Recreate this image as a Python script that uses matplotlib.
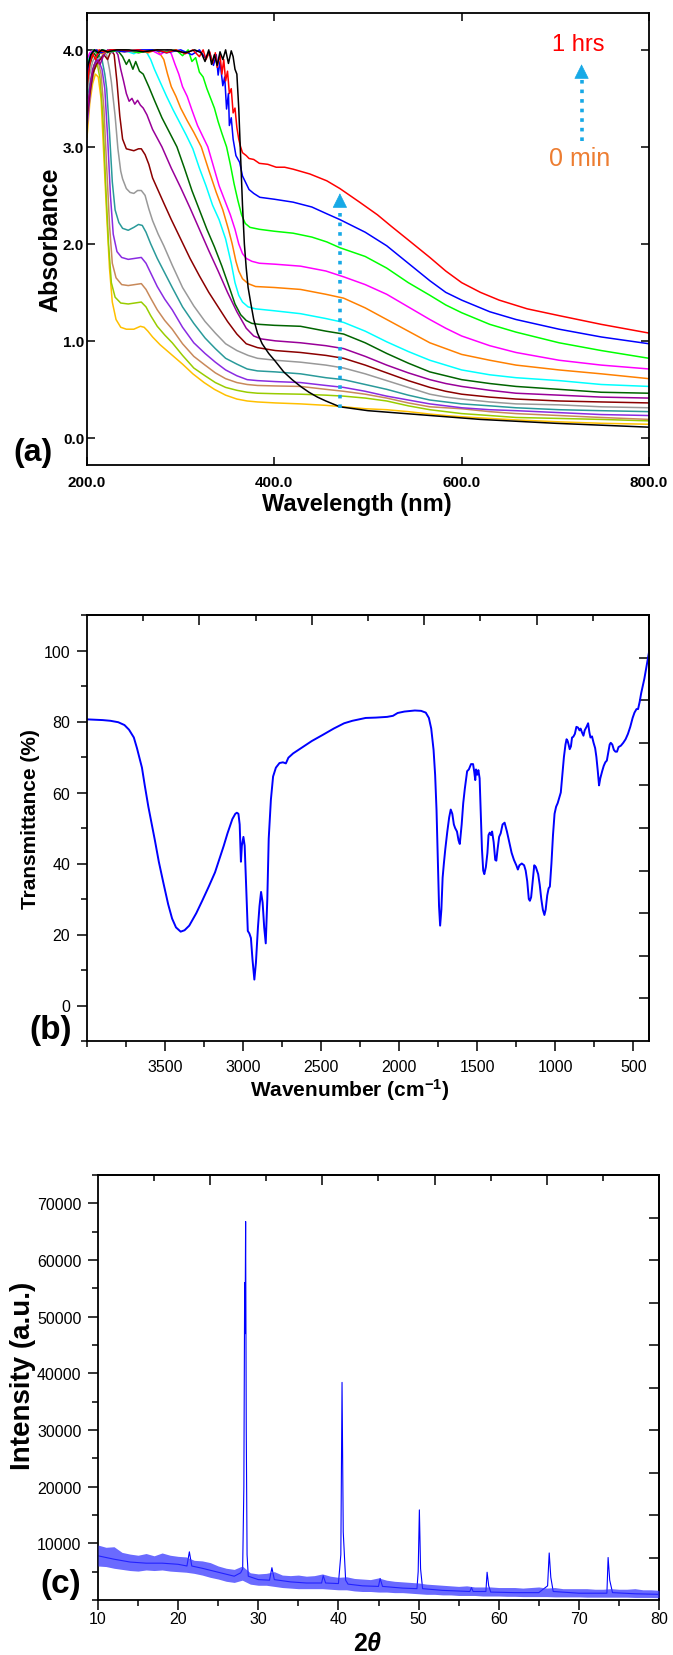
import numpy as np
import matplotlib
matplotlib.use('Agg')
import matplotlib.pyplot as plt
from matplotlib.ticker import MultipleLocator, FixedLocator, NullFormatter

plt.rcParams['font.family'] = ['Liberation Sans', 'DejaVu Sans']
plt.rcParams['mathtext.fontset'] = 'custom'
plt.rcParams['mathtext.rm'] = 'Liberation Sans'
plt.rcParams['mathtext.bf'] = 'Liberation Sans:bold'
plt.rcParams['mathtext.it'] = 'Liberation Sans:italic'
plt.rcParams['mathtext.bfit'] = 'Liberation Sans:italic:bold'

# ---------------- Panel (a) UV-Vis data ----------------
wl_gold = [200, 203, 206, 209, 212, 215, 218, 221, 224, 227, 231, 236, 242, 250, 257, 261, 265, 270, 278, 290, 302, 313, 325, 336, 348, 360, 371, 382, 401, 428, 455, 474, 497, 520, 543, 566, 589, 612, 658, 704, 749, 800]
ab_gold = [3.1, 3.45, 3.65, 3.75, 3.72, 3.5, 2.9, 2.3, 1.75, 1.4, 1.22, 1.14, 1.12, 1.12, 1.15, 1.14, 1.1, 1.04, 0.96, 0.86, 0.76, 0.66, 0.57, 0.5, 0.44, 0.4, 0.38, 0.37, 0.36, 0.35, 0.335, 0.32, 0.3, 0.29, 0.27, 0.245, 0.225, 0.21, 0.185, 0.165, 0.15, 0.14]

wl_ygreen = [200, 204, 208, 211, 214, 217, 220, 223, 226, 230, 236, 244, 251, 258, 263, 268, 275, 283, 291, 302, 314, 326, 337, 348, 360, 371, 382, 401, 428, 455, 474, 497, 520, 543, 566, 583, 600, 630, 658, 704, 749, 800]
ab_ygreen = [3.4, 3.6, 3.8, 3.85, 3.7, 3.3, 2.6, 2.0, 1.6, 1.45, 1.39, 1.38, 1.39, 1.4, 1.35, 1.26, 1.15, 1.06, 0.98, 0.85, 0.72, 0.64, 0.57, 0.52, 0.49, 0.47, 0.46, 0.455, 0.45, 0.44, 0.43, 0.41, 0.38, 0.33, 0.29, 0.27, 0.25, 0.23, 0.21, 0.2, 0.19, 0.175]

wl_tan = [200, 204, 208, 212, 215, 218, 221, 224, 227, 231, 237, 244, 251, 258, 263, 268, 275, 283, 291, 302, 314, 326, 337, 348, 360, 371, 382, 401, 428, 455, 474, 497, 520, 543, 566, 583, 600, 630, 658, 704, 749, 800]
ab_tan = [3.35, 3.65, 3.85, 3.88, 3.75, 3.4, 2.8, 2.2, 1.8, 1.65, 1.58, 1.57, 1.58, 1.59, 1.53, 1.44, 1.32, 1.21, 1.12, 0.97, 0.84, 0.75, 0.67, 0.61, 0.57, 0.55, 0.54, 0.535, 0.53, 0.5, 0.48, 0.45, 0.41, 0.36, 0.32, 0.31, 0.3, 0.27, 0.25, 0.23, 0.21, 0.19]

wl_violet = [200, 204, 208, 212, 216, 219, 222, 225, 228, 232, 237, 244, 251, 258, 263, 268, 275, 283, 291, 302, 314, 326, 337, 348, 360, 371, 382, 401, 428, 455, 474, 497, 520, 543, 566, 583, 600, 630, 658, 704, 749, 800]
ab_violet = [3.2, 3.6, 3.85, 3.9, 3.8, 3.6, 3.1, 2.5, 2.1, 1.92, 1.86, 1.84, 1.85, 1.86, 1.8, 1.7, 1.56, 1.43, 1.32, 1.14, 0.98, 0.87, 0.78, 0.7, 0.64, 0.6, 0.59, 0.58, 0.57, 0.54, 0.52, 0.48, 0.43, 0.39, 0.35, 0.33, 0.31, 0.29, 0.28, 0.26, 0.24, 0.23]

wl_teal = [200, 204, 208, 212, 216, 219, 221, 224, 227, 230, 234, 238, 244, 250, 255, 259, 263, 268, 275, 283, 291, 302, 314, 326, 337, 348, 360, 371, 382, 401, 428, 455, 474, 497, 520, 543, 566, 583, 600, 630, 658, 704, 749, 800]
ab_teal = [3.5, 3.7, 3.85, 3.95, 3.9, 3.75, 3.6, 3.15, 2.64, 2.35, 2.22, 2.16, 2.14, 2.17, 2.2, 2.19, 2.12, 2.0, 1.85, 1.7, 1.55, 1.35, 1.18, 1.03, 0.92, 0.82, 0.76, 0.71, 0.69, 0.68, 0.66, 0.62, 0.6, 0.55, 0.5, 0.44, 0.39, 0.37, 0.35, 0.33, 0.31, 0.29, 0.28, 0.27]

wl_gray = [200, 203, 206, 210, 214, 218, 221, 224, 226, 230, 233, 236, 238, 242, 246, 250, 254, 258, 262, 266, 270, 276, 282, 291, 302, 314, 326, 337, 348, 360, 372, 382, 401, 428, 455, 474, 497, 520, 543, 566, 583, 600, 630, 658, 704, 749, 800]
ab_gray = [3.55, 3.75, 3.88, 3.95, 3.9, 3.97, 3.95, 3.8, 3.67, 3.32, 2.98, 2.75, 2.67, 2.57, 2.53, 2.52, 2.55, 2.55, 2.5, 2.36, 2.24, 2.1, 1.98, 1.78, 1.55, 1.36, 1.2, 1.08, 0.97, 0.9, 0.85, 0.82, 0.8, 0.78, 0.75, 0.72, 0.66, 0.59, 0.52, 0.45, 0.42, 0.4, 0.37, 0.35, 0.34, 0.32, 0.31]

wl_darkred = [200, 203, 206, 210, 214, 218, 222, 226, 229, 232, 235, 238, 242, 246, 250, 255, 258, 262, 266, 270, 276, 282, 290, 300, 310, 320, 330, 340, 350, 360, 370, 382, 401, 428, 455, 474, 497, 520, 543, 566, 583, 600, 630, 658, 704, 749, 800]
ab_darkred = [3.3, 3.55, 3.75, 3.85, 3.9, 3.95, 3.9, 4.0, 3.95, 3.67, 3.32, 3.08, 2.98, 2.97, 2.96, 2.98, 2.98, 2.92, 2.82, 2.68, 2.55, 2.42, 2.25, 2.05, 1.85, 1.67, 1.5, 1.35, 1.2, 1.07, 0.97, 0.93, 0.9, 0.88, 0.85, 0.82, 0.75, 0.67, 0.59, 0.52, 0.48, 0.45, 0.42, 0.4, 0.38, 0.37, 0.36]

wl_purple = [200, 203, 206, 210, 214, 218, 222, 227, 230, 233, 236, 239, 242, 245, 248, 251, 254, 257, 260, 264, 270, 280, 290, 300, 310, 320, 330, 340, 350, 360, 370, 378, 386, 401, 428, 455, 474, 497, 520, 543, 566, 583, 600, 630, 658, 704, 749, 800]
ab_purple = [3.35, 3.6, 3.8, 3.9, 3.85, 3.95, 4.0, 3.97, 4.0, 3.95, 3.8, 3.68, 3.55, 3.47, 3.5, 3.44, 3.48, 3.43, 3.4, 3.33, 3.18, 3.0, 2.78, 2.58, 2.37, 2.15, 1.93, 1.72, 1.5, 1.3, 1.13, 1.05, 1.02, 1.0, 0.98, 0.95, 0.92, 0.84, 0.75, 0.67, 0.6, 0.56, 0.53, 0.49, 0.46, 0.44, 0.42, 0.41]

wl_dkgreen = [200, 203, 207, 211, 216, 222, 228, 234, 238, 242, 245, 249, 252, 256, 260, 266, 272, 280, 288, 296, 304, 312, 320, 328, 336, 344, 352, 358, 364, 370, 376, 384, 400, 428, 455, 474, 497, 520, 543, 566, 583, 600, 630, 658, 704, 749, 800]
ab_dkgreen = [3.65, 3.85, 3.97, 3.92, 4.0, 3.97, 4.0, 3.98, 3.93, 3.85, 3.9, 3.8, 3.88, 3.78, 3.75, 3.62, 3.48, 3.3, 3.15, 3.0, 2.78, 2.55, 2.35, 2.15, 1.97, 1.77, 1.55, 1.38, 1.27, 1.21, 1.18, 1.17, 1.16, 1.15, 1.1, 1.07, 0.98, 0.87, 0.77, 0.68, 0.64, 0.6, 0.56, 0.53, 0.5, 0.47, 0.46]

wl_cyan = [200, 203, 207, 211, 216, 225, 238, 250, 258, 264, 268, 272, 278, 285, 292, 299, 306, 313, 320, 327, 334, 341, 348, 354, 358, 362, 366, 372, 380, 400, 428, 455, 474, 497, 520, 543, 566, 583, 600, 630, 658, 704, 749, 800]
ab_cyan = [3.85, 3.95, 4.0, 3.97, 4.0, 3.98, 4.0, 3.96, 4.0, 3.97, 3.9, 3.8, 3.67, 3.52, 3.38, 3.25, 3.12, 2.98, 2.78, 2.6, 2.4, 2.25, 2.05, 1.8, 1.6, 1.47, 1.4, 1.35, 1.33, 1.31, 1.28, 1.23, 1.19, 1.1, 0.99, 0.89, 0.8, 0.75, 0.7, 0.65, 0.62, 0.59, 0.55, 0.53]

wl_orange = [200, 203, 207, 211, 216, 225, 240, 255, 265, 274, 278, 282, 286, 290, 295, 300, 307, 314, 322, 330, 338, 345, 351, 355, 359, 362, 366, 372, 380, 400, 428, 455, 474, 497, 520, 543, 566, 583, 600, 630, 658, 704, 749, 800]
ab_orange = [3.75, 3.9, 3.98, 4.0, 3.96, 4.0, 3.98, 4.0, 3.97, 4.0, 3.96, 3.9, 3.75, 3.62, 3.52, 3.4, 3.27, 3.15, 3.0, 2.76, 2.53, 2.35, 2.15, 2.0, 1.82, 1.72, 1.64, 1.59, 1.56, 1.55, 1.53, 1.48, 1.44, 1.34, 1.22, 1.1, 0.98, 0.92, 0.86, 0.8, 0.75, 0.7, 0.66, 0.61]

wl_magenta = [200, 203, 207, 211, 216, 225, 240, 255, 268, 278, 286, 290, 294, 298, 302, 307, 312, 318, 324, 329, 335, 341, 347, 353, 358, 362, 366, 370, 376, 384, 401, 428, 455, 474, 497, 520, 543, 566, 583, 600, 630, 658, 704, 749, 800]
ab_magenta = [3.9, 3.97, 4.0, 3.95, 4.0, 3.98, 4.0, 3.97, 4.0, 3.95, 4.0, 3.96, 3.85, 3.75, 3.62, 3.52, 3.38, 3.22, 3.1, 3.0, 2.8, 2.6, 2.45, 2.3, 2.15, 2.0, 1.9, 1.85, 1.82, 1.8, 1.79, 1.77, 1.72, 1.66, 1.58, 1.48, 1.35, 1.22, 1.13, 1.05, 0.95, 0.88, 0.8, 0.75, 0.71]

wl_green = [200, 203, 207, 211, 216, 225, 240, 255, 270, 285, 295, 302, 308, 312, 316, 320, 324, 328, 332, 336, 340, 344, 349, 353, 357, 361, 365, 369, 374, 384, 400, 420, 440, 456, 470, 497, 520, 543, 566, 583, 600, 630, 658, 704, 749, 800]
ab_green = [3.8, 3.92, 4.0, 3.96, 4.0, 3.98, 4.0, 3.97, 4.0, 3.98, 4.0, 3.94, 4.0, 3.88, 3.92, 3.77, 3.72, 3.6, 3.5, 3.4, 3.26, 3.14, 3.0, 2.82, 2.62, 2.45, 2.3, 2.21, 2.17, 2.15, 2.13, 2.11, 2.07, 2.02, 1.96, 1.87, 1.75, 1.6, 1.47, 1.37, 1.29, 1.17, 1.09, 0.98, 0.9, 0.82]

wl_blue = [200, 203, 206, 210, 215, 225, 240, 255, 270, 285, 300, 312, 320, 326, 331, 335, 338, 340, 342, 345, 347, 349, 351, 352, 354, 356, 359, 363, 366, 370, 373, 378, 384.5, 400, 420, 440, 456, 470, 497, 520, 543, 566, 583, 600, 630, 658, 704, 749, 800]
ab_blue = [3.72, 3.9, 3.98, 4.0, 3.97, 4.0, 3.98, 4.0, 4.0, 3.97, 4.0, 3.95, 4.0, 3.92, 3.97, 3.84, 3.95, 3.74, 3.88, 3.63, 3.72, 3.39, 3.55, 3.22, 3.3, 3.08, 2.91, 2.84, 2.7, 2.62, 2.56, 2.52, 2.48, 2.46, 2.43, 2.38, 2.31, 2.25, 2.12, 1.98, 1.8, 1.62, 1.5, 1.42, 1.3, 1.22, 1.12, 1.04, 0.97]

wl_red = [200, 203, 206, 209, 213, 218, 225, 235, 245, 255, 265, 275, 285, 295, 305, 313, 320, 324, 327, 331, 334, 337, 339, 342, 344, 346, 348, 350, 352, 354, 356, 358, 360, 362, 364, 366, 370, 373, 378, 384, 393, 402, 411, 420, 438, 456, 470, 491, 510, 525, 543, 566, 583, 600, 620, 640, 670, 704, 749, 800]
ab_red = [3.62, 3.85, 3.96, 3.9, 4.0, 3.98, 4.0, 4.0, 3.99, 4.0, 3.98, 4.0, 3.97, 4.0, 3.96, 4.0, 3.93, 4.0, 3.9, 3.98, 3.86, 3.97, 3.82, 3.95, 3.75, 3.9, 3.68, 3.78, 3.55, 3.6, 3.35, 3.4, 3.2, 3.08, 3.0, 2.94, 2.91, 2.88, 2.87, 2.83, 2.82, 2.79, 2.79, 2.77, 2.72, 2.65, 2.57, 2.43, 2.3, 2.18, 2.04, 1.86, 1.72, 1.6, 1.5, 1.42, 1.33, 1.26, 1.17, 1.08]

wl_black = [200, 204, 208, 212, 216, 222, 232, 245, 260, 275, 290, 305, 315, 322, 326, 330, 333, 336, 339, 342, 345, 348, 351, 354, 356, 358, 360, 362, 364, 366, 368, 370, 372, 375, 378, 382, 387, 394, 401, 410, 419, 428, 437, 446, 455, 470, 500, 540, 580, 620, 660, 700, 750, 800]
ab_black = [3.8, 3.95, 4.0, 3.97, 4.0, 3.98, 4.0, 4.0, 3.98, 4.0, 4.0, 3.97, 4.0, 3.97, 3.88, 4.0, 3.85, 3.95, 3.84, 3.98, 3.9, 4.0, 3.86, 3.99, 3.93, 3.8, 3.75, 3.4, 2.9, 2.4, 2.0, 1.75, 1.55, 1.38, 1.22, 1.08, 0.97, 0.87, 0.79, 0.68, 0.6, 0.53, 0.47, 0.42, 0.38, 0.32, 0.28, 0.25, 0.22, 0.19, 0.17, 0.15, 0.13, 0.11]

uv_series = [
    (wl_gold, ab_gold, '#FFC000'),
    (wl_ygreen, ab_ygreen, '#99CC00'),
    (wl_tan, ab_tan, '#C8895A'),
    (wl_violet, ab_violet, '#8A2BE2'),
    (wl_teal, ab_teal, '#2A9A9A'),
    (wl_gray, ab_gray, '#999999'),
    (wl_darkred, ab_darkred, '#8B0000'),
    (wl_purple, ab_purple, '#990099'),
    (wl_dkgreen, ab_dkgreen, '#006400'),
    (wl_cyan, ab_cyan, '#00FFFF'),
    (wl_orange, ab_orange, '#FF8000'),
    (wl_magenta, ab_magenta, '#FF00FF'),
    (wl_green, ab_green, '#00FF00'),
    (wl_blue, ab_blue, '#0000FF'),
    (wl_red, ab_red, '#FF0000'),
    (wl_black, ab_black, '#000000'),
]

uv_xticks = [200, 400, 600, 800]
uv_xticklabels = ['200.0', '400.0', '600.0', '800.0']
uv_yticks = [0, 1, 2, 3, 4]
uv_yticklabels = ['0.0', '1.0', '2.0', '3.0', '4.0']

# ---------------- Panel (b) FTIR data ----------------
ftir_wn = [4000, 3900, 3850, 3800, 3760, 3731, 3700, 3680, 3660, 3648, 3630, 3607, 3585, 3565, 3540, 3510, 3480, 3455, 3430, 3400,
           3375, 3345, 3300, 3262, 3220, 3180, 3150, 3124, 3100, 3069, 3050, 3040, 3030, 3022, 3014, 3008, 2998, 2990, 2980, 2970,
           2960, 2950, 2940, 2928, 2918, 2905, 2895, 2885, 2875, 2865, 2855, 2845, 2836, 2822, 2808, 2790, 2767, 2745, 2726, 2710,
           2680, 2629, 2560, 2491, 2420, 2353, 2300, 2215, 2150, 2078, 2040, 2010, 1967, 1900, 1860, 1830, 1810, 1795, 1780, 1770,
           1761, 1752, 1745, 1738, 1730, 1722, 1714, 1705, 1692, 1680, 1670, 1660, 1650, 1642, 1630, 1620, 1612, 1600, 1590, 1580,
           1565, 1554, 1540, 1527, 1520, 1513, 1508, 1500, 1493, 1485, 1478, 1470, 1462, 1455, 1445, 1435, 1428, 1420, 1412, 1405,
           1395, 1385, 1378, 1370, 1360, 1350, 1338, 1325, 1310, 1295, 1280, 1265, 1250, 1240, 1230, 1215, 1200, 1190, 1180, 1170,
           1163, 1155, 1145, 1135, 1125, 1110, 1100, 1090, 1080, 1070, 1062, 1052, 1043, 1035, 1025, 1015, 1005, 995, 985, 975,
           965, 955, 945, 935, 928, 921, 915, 908, 900, 893, 885, 875, 865, 855, 845, 838, 830, 820, 812, 800,
           790, 782, 775, 765, 755, 745, 737, 728, 720, 712, 700, 690, 680, 670, 660, 652, 645, 635, 625, 615,
           605, 595, 580, 565, 550, 535, 520, 505, 493, 480, 470, 460, 450, 440, 430, 420, 410, 400]
ftir_T = [80.6, 80.4, 80.2, 79.8, 79.0, 77.7, 75.5, 72.5, 69, 67, 62, 56, 51, 46.5, 40.5, 34.4, 28.5, 24.5, 22, 20.8,
          21.2, 22.5, 26, 29.5, 33.5, 37.5, 41.5, 45, 48.5, 52.5, 54, 54.3, 54, 51, 40.5, 45, 47.5, 45, 33, 21,
          20.3, 19, 13, 7.3, 12, 22, 28, 32, 29, 22, 17.5, 30, 47, 58, 64.5, 67, 68.3, 68.5, 68.2, 69.8,
          71, 72.5, 74.5, 76.2, 78, 79.5, 80.2, 81, 81.1, 81.3, 81.6, 82.4, 82.8, 83.1, 83, 82.5, 81, 78, 72, 65,
          55, 40, 28, 22.5, 27, 36, 40, 44, 49, 53, 55.2, 54, 51, 50, 49, 46.5, 45.5, 51, 57, 61,
          66, 66.5, 68, 68, 66, 63.5, 66.5, 65, 66.3, 64, 55, 44, 38, 37, 39, 43, 48, 48.7, 48, 49,
          46, 41, 40.8, 44, 47.5, 48.5, 51, 51.5, 49, 46, 43, 41, 39.5, 38.3, 39.5, 40, 39.5, 38, 35, 30,
          29.5, 30.5, 35, 39.5, 39, 37, 34, 30, 27, 25.5, 27, 31, 33, 33.5, 40, 48, 54, 56, 57, 58.5,
          60, 65, 70, 73.5, 75, 74.5, 73.5, 72.2, 73, 75.5, 75.7, 76.5, 78.5, 78.3, 77.5, 78, 77, 76, 77.5, 78.5,
          79.5, 77, 75.5, 75.8, 74, 72.5, 70, 66, 62, 64, 66, 67.5, 68.5, 69, 71.5, 73.5, 74, 73.5, 72, 71.5,
          71.5, 72.8, 73.2, 74, 75, 76.5, 78.5, 81, 82.5, 83.5, 83.5, 85.5, 88, 90, 92, 94.5, 97, 99.5]

ftir_xticks = [3500, 3000, 2500, 2000, 1500, 1000, 500]
ftir_yticks = [0, 20, 40, 60, 80, 100]

# ---------------- Panel (c) XRD data ----------------
xrd_tt = [10, 12, 14, 16, 18, 20, 21.1, 21.4, 21.7, 23, 25, 27, 27.8, 28.05, 28.2, 28.3, 28.35, 28.42, 28.5, 28.6,
          28.75, 30, 31.4, 31.7, 32.0, 34, 36, 37.9, 38.1, 38.4, 40.0, 40.3, 40.45, 40.6, 40.9, 41.2, 43, 45.0, 45.2, 45.5,
          48, 49.8, 49.95, 50.1, 50.25, 50.5, 53, 56.4, 56.6, 56.8, 58.4, 58.55, 58.75, 59, 62, 65, 66.1, 66.3, 66.5, 66.8,
          70, 73.5, 73.65, 73.85, 74.2, 77, 80]
xrd_I = [7800, 7200, 6700, 6500, 6500, 6300, 6000, 8500, 6000, 5600, 4900, 4200, 4800, 5500, 20000, 56000, 47000, 66800, 30000, 8000,
         4200, 3600, 3500, 5700, 3600, 3200, 3000, 3000, 4300, 3000, 2900, 8000, 38400, 12000, 3500, 2800, 2500, 2400, 3800, 2400,
         2100, 2000, 5000, 15900, 5500, 2000, 1700, 1500, 2200, 1500, 1500, 4900, 2500, 1400, 1300, 1300, 2500, 8300, 4000, 1500,
         1200, 1200, 7500, 3500, 1300, 1100, 1000]

bg_tt = [10, 11, 12, 13, 14, 15, 16, 17, 18, 19, 20, 21, 22, 23, 24, 25, 26, 27, 28, 29,
         30, 31, 32, 33, 34, 35, 36, 37, 38, 39, 40, 41, 42, 43, 44, 45, 46, 47, 48, 49,
         50, 51, 52, 53, 54, 55, 56, 57, 58, 59, 60, 61, 62, 63, 64, 65, 66, 67, 68, 69,
         70, 71, 72, 73, 74, 75, 76, 77, 78, 79, 80]
bg_upper = [9700, 9300, 9400, 8400, 8100, 7900, 8200, 7800, 8300, 7900, 7700, 7600, 7000, 6900, 6600, 6000, 5600, 5400, 6000, 4800,
            4600, 4700, 5000, 4400, 4300, 4400, 4200, 4300, 4600, 4200, 4000, 4100, 3800, 3700, 3600, 3900, 3500, 3300, 3200, 3100,
            3000, 2800, 2700, 2600, 2500, 2400, 2500, 2300, 2300, 2300, 2200, 2200, 2200, 2100, 2200, 2300, 2100, 2200, 2000, 2000,
            2000, 2000, 1900, 1900, 2000, 1900, 1900, 2000, 1800, 1800, 1700]
bg_lower = [6000, 5900, 5600, 5400, 5200, 5100, 5300, 5200, 5300, 5100, 5000, 4900, 4700, 4400, 4000, 3700, 3300, 3100, 3500, 2800,
            2600, 2600, 2400, 2200, 2100, 2000, 2000, 2000, 2000, 1900, 1800, 1800, 1600, 1500, 1500, 1400, 1400, 1300, 1300, 1200,
            1100, 1000, 1000, 900, 900, 800, 800, 800, 700, 700, 700, 650, 650, 600, 600, 600, 600, 550, 550, 550,
            550, 500, 500, 500, 500, 500, 500, 450, 450, 450, 400]

xrd_xticks = [10, 20, 30, 40, 50, 60, 70, 80]
xrd_yticks = [10000, 20000, 30000, 40000, 50000, 60000, 70000]

# ---------------- Figure ----------------
W, H = 673, 1656
fig = plt.figure(figsize=(W / 100, H / 100), dpi=100)


def box(l, t, r, b):
    return [l / W, 1 - b / H, (r - l) / W, (b - t) / H]


def fx(x):
    return x / W


def fy(y):
    return 1 - y / H


SPW = 1.3

# ----- (a) -----
axa = fig.add_axes(box(87, 14, 649, 466))
for wl, ab, col in uv_series:
    axa.plot(wl, ab, color=col, lw=1.1)
axa.set_xlim(200, 800)
axa.set_ylim(-0.28, 4.38)
axa.set_xticks(uv_xticks)
axa.set_xticklabels(uv_xticklabels)
axa.set_yticks(uv_yticks)
axa.set_yticklabels(uv_yticklabels)
axa.tick_params(axis='both', direction='in', length=6, width=1.1, top=True, right=True, labelsize=11)
axa.tick_params(axis='x', pad=7)
axa.tick_params(axis='y', pad=2)
for lbl in axa.get_xticklabels() + axa.get_yticklabels():
    lbl.set_fontweight('bold')
for s in axa.spines.values():
    s.set_linewidth(SPW)

arrow_c = '#17A9E6'
axa.plot([470, 470], [0.31, 2.42], ls=':', lw=2.6, color=arrow_c)
axa.annotate('', xy=(470, 2.55), xytext=(470, 2.40),
             arrowprops=dict(arrowstyle='-|>,head_width=0.3,head_length=0.6', color=arrow_c, lw=0.5, mutation_scale=16))
axa.plot([728, 728], [3.06, 3.76], ls=':', lw=2.6, color=arrow_c)
axa.annotate('', xy=(728, 3.88), xytext=(728, 3.74),
             arrowprops=dict(arrowstyle='-|>,head_width=0.3,head_length=0.6', color=arrow_c, lw=0.5, mutation_scale=16))
axa.text(724, 4.06, '1 hrs', color='#FF0000', fontsize=17, ha='center', va='center')
axa.text(726, 2.89, '0 min', color='#ED7D31', fontsize=18, ha='center', va='center')

fig.text(fx(50), fy(240), 'Absorbance', rotation=90, fontsize=18, fontweight='bold', ha='center', va='center')
fig.text(fx(357), fy(505), 'Wavelength (nm)', fontsize=17, fontweight='bold', ha='center', va='center')
fig.text(fx(33), fy(453), '(a)', fontsize=23, fontweight='bold', ha='center', va='center')

# ----- (b) -----
axb = fig.add_axes(box(87, 616, 649, 1042))
axb.plot(ftir_wn, ftir_T, color='#0000FF', lw=1.4)
axb.set_xlim(4000, 400)
axb.set_ylim(-10, 110)
axb.xaxis.set_major_locator(FixedLocator(ftir_xticks))
axb.xaxis.set_minor_locator(MultipleLocator(250))
axb.yaxis.set_major_locator(FixedLocator(ftir_yticks))
axb.yaxis.set_minor_locator(MultipleLocator(10))
axb.tick_params(axis='both', which='major', direction='out', length=7, width=1.1, labelsize=11.5, top=False, right=False)
axb.tick_params(axis='both', which='minor', direction='out', length=4, width=1.1, top=False, right=False)
axb.tick_params(axis='x', which='major', pad=6)
axb.tick_params(axis='y', which='major', pad=5)
for s in axb.spines.values():
    s.set_linewidth(SPW)
topb = axb.secondary_xaxis('top')
topb.xaxis.set_major_locator(FixedLocator([3280, 2560, 1840, 1120, 400]))
topb.xaxis.set_minor_locator(FixedLocator([3640, 2920, 2200, 1480, 760]))
topb.xaxis.set_major_formatter(NullFormatter())
topb.tick_params(which='major', direction='in', length=7, width=1.1)
topb.tick_params(which='minor', direction='in', length=4, width=1.1)
rightb = axb.secondary_yaxis('right')
rightb.yaxis.set_major_locator(FixedLocator([2, 14, 26, 38, 50, 62, 74, 86, 98]))
rightb.yaxis.set_major_formatter(NullFormatter())
rightb.tick_params(which='major', direction='in', length=7, width=1.1)
for s in list(topb.spines.values()) + list(rightb.spines.values()):
    s.set_linewidth(SPW)

fig.text(fx(31), fy(819), 'Transmittance (%)', rotation=90, fontsize=15, fontweight='bold', ha='center', va='center')
fig.text(fx(350), fy(1090), r'Wavenumber (cm$^{\mathbf{-1}}$)', fontsize=15, fontweight='bold', ha='center', va='center')
fig.text(fx(51), fy(1030), '(b)', fontsize=24, fontweight='bold', ha='center', va='center')

# ----- (c) -----
axc = fig.add_axes(box(98, 1176, 659, 1601))
axc.plot(xrd_tt, xrd_I, color='#0000FF', lw=0.8, zorder=2)
axc.fill_between(bg_tt, bg_lower, bg_upper, color='#3030FF', alpha=0.72, lw=0, zorder=3)
axc.set_xlim(10, 80)
axc.set_ylim(0, 75000)
axc.xaxis.set_major_locator(FixedLocator(xrd_xticks))
axc.xaxis.set_minor_locator(MultipleLocator(5))
axc.yaxis.set_major_locator(FixedLocator(xrd_yticks))
axc.yaxis.set_minor_locator(MultipleLocator(5000))
axc.tick_params(axis='both', which='major', direction='out', length=7, width=1.1, labelsize=11.5, top=False, right=False)
axc.tick_params(axis='both', which='minor', direction='out', length=4, width=1.1, top=False, right=False)
axc.tick_params(axis='x', which='major', pad=1)
axc.tick_params(axis='y', which='major', pad=5)
for s in axc.spines.values():
    s.set_linewidth(SPW)
topc = axc.secondary_xaxis('top')
topc.xaxis.set_major_locator(FixedLocator([24, 38, 52, 66]))
topc.xaxis.set_minor_locator(FixedLocator([17, 31, 45, 59, 73]))
topc.xaxis.set_major_formatter(NullFormatter())
topc.tick_params(which='major', direction='in', length=7, width=1.1)
topc.tick_params(which='minor', direction='in', length=4, width=1.1)
rightc = axc.secondary_yaxis('right')
rightc.yaxis.set_major_locator(FixedLocator([7500, 15000, 22500, 30000, 37500, 45000, 52500, 60000, 67500]))
rightc.yaxis.set_major_formatter(NullFormatter())
rightc.tick_params(which='major', direction='in', length=7, width=1.1)
for s in list(topc.spines.values()) + list(rightc.spines.values()):
    s.set_linewidth(SPW)

fig.text(fx(23), fy(1376), 'Intensity (a.u.)', rotation=90, fontsize=20, fontweight='bold', ha='center', va='center')
fig.text(fx(368), fy(1644), r'2$\mathbfit{\theta}$', fontsize=18, fontweight='bold', ha='center', va='center')
fig.text(fx(61), fy(1585), '(c)', fontsize=24, fontweight='bold', ha='center', va='center')

fig.savefig('out.png', dpi=100)
